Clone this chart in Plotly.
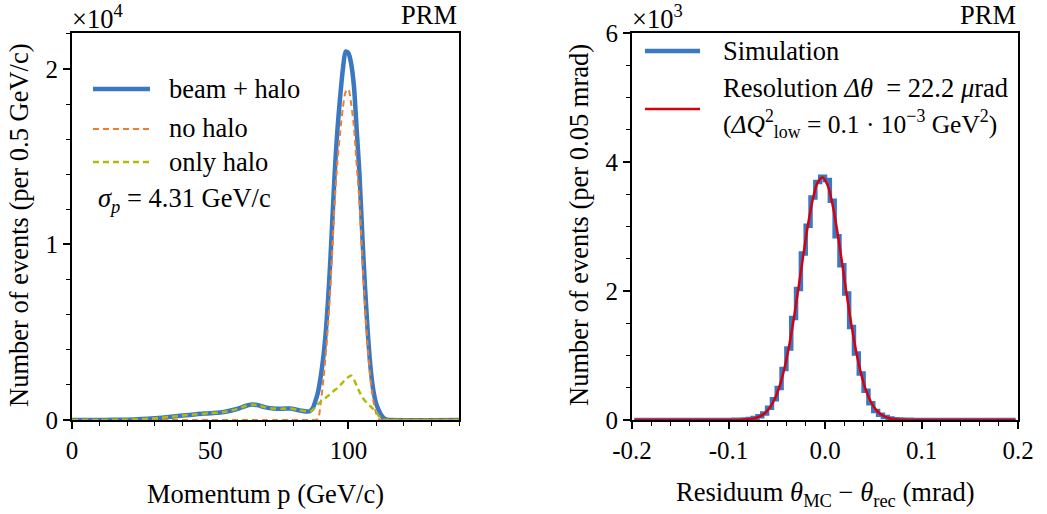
import plotly.graph_objects as go

W, H = 1047, 514
FONT = "Liberation Serif"

# ---------------- data: left panel (momentum, counts per 0.5 GeV/c) ----------------
p_gev = [0, 10, 15, 20, 25, 30, 35, 40, 45, 50, 55, 60, 63, 65, 67, 70, 73, 76, 79, 82, 85, 86,
         87, 88, 89, 90, 91, 92, 93, 94, 95, 96, 97, 98, 99, 100, 101, 102, 103, 104, 105, 106,
         107, 108, 109, 110, 111, 112, 113, 114, 115, 140]
beam_halo = [0, 2, 8, 20, 50, 100, 170, 250, 330, 390, 460, 640, 810, 880, 850, 720, 650, 640, 660, 560, 490, 500,
             650, 1050, 1600, 2500, 3700, 5400, 7800, 10800, 14000, 16500, 18400, 20000, 21000, 20900, 20300,
             19000, 16500, 14000, 10600, 7600, 5000, 3000, 1700, 950, 550, 250, 80, 20, 0, 0]
no_halo = [0, 0, 0, 0, 0, 0, 0, 0, 0, 0, 0, 0, 0, 0, 0, 0, 0, 0, 0, 0, 0, 0,
           0, 0, 60, 1000, 2400, 4100, 6300, 9200, 12300, 14700, 16400, 17800, 18700, 18850, 18000,
           16700, 14500, 12400, 9300, 6500, 4100, 2300, 1100, 400, 50, 0, 0, 0, 0, 0]
only_halo = [0, 2, 8, 20, 50, 100, 170, 250, 330, 390, 460, 640, 810, 880, 850, 720, 650, 640, 660, 560, 490, 500,
             560, 730, 900, 1040, 1170, 1300, 1420, 1560, 1700, 1820, 1980, 2150, 2300, 2450, 2530,
             2300, 1950, 1600, 1300, 1100, 930, 770, 620, 430, 220, 80, 0, 0, 0, 0]

# ---------------- data: right panel (residual, bins of 0.005 mrad) ----------------
sim_core = [0, 1, 1, 2, 4, 8, 15, 30, 58, 100, 190, 320, 495, 790, 1110, 1580, 2030, 2580, 3010, 3450, 3690, 3770,
            3720, 3400, 2850, 2400, 1960, 1440, 1030, 720, 455, 258, 140, 80, 45, 24, 12, 6, 3, 2, 1, 1, 0, 0]
fit_core = [0, 0, 0, 1, 3, 6, 14, 28, 55, 104, 185, 313, 504, 772, 1124, 1555, 2045, 2556, 3038, 3431, 3684, 3760,
            3646, 3362, 2947, 2455, 1944, 1463, 1047, 712, 460, 283, 165, 92, 48, 24, 12, 5, 2, 1, 0, 0, 0, 0]
theta_centres = [round((k + 0.5) * 0.005, 4) for k in range(-40, 40)]
pad = [0] * 18
sim_counts = pad + sim_core + pad
fit_counts = pad + fit_core + pad

x_ticks_left = [0, 50, 100]
x_ticks_right = [-0.2, -0.1, 0.0, 0.1, 0.2]
x_ticktext_right = ["-0.2", "-0.1", "0.0", "0.1", "0.2"]
y_ticks_left = [0, 10000, 20000]
y_ticktext_left = ["0", "1", "2"]
y_ticks_right = [0, 2000, 4000, 6000]
y_ticktext_right = ["0", "2", "4", "6"]

BLUE = "#3a78c2"
ORANGE = "#ef7d31"
GREEN = "#b2ba0c"
RED = "#d7000f"
TXT = 26.5
TICK = 25

def px(x):
    return x / W

def py(y):
    return 1 - y / H

L_DOM = [px(72), px(459)]
R_DOM = [px(632), px(1018)]
Y_DOM = [py(420), py(33)]

fig = go.Figure()
fig.add_trace(go.Scatter(x=p_gev, y=beam_halo, mode="lines",
                         line=dict(color=BLUE, width=4.5, shape="spline", smoothing=0.7),
                         xaxis="x", yaxis="y", showlegend=False))
fig.add_trace(go.Scatter(x=p_gev, y=no_halo, mode="lines",
                         line=dict(color=ORANGE, width=2, dash="6px,4px", shape="spline", smoothing=0.7),
                         xaxis="x", yaxis="y", showlegend=False))
fig.add_trace(go.Scatter(x=p_gev, y=only_halo, mode="lines",
                         line=dict(color=GREEN, width=2.5, dash="6px,4px", shape="spline", smoothing=0.7),
                         xaxis="x", yaxis="y", showlegend=False))
fig.add_trace(go.Scatter(x=theta_centres, y=sim_counts, mode="lines", line=dict(color=BLUE, width=4.5, shape="hvh"),
                         xaxis="x2", yaxis="y2", showlegend=False))
fig.add_trace(go.Scatter(x=theta_centres, y=fit_counts, mode="lines",
                         line=dict(color=RED, width=2.5, shape="spline", smoothing=1.0),
                         xaxis="x2", yaxis="y2", showlegend=False))

tickfont = dict(family=FONT, size=TICK, color="black")
common = dict(showline=True, mirror=True, linecolor="black", linewidth=2, showgrid=False, zeroline=False,
              ticks="outside", ticklen=7, tickwidth=1.5, tickcolor="black", tickfont=tickfont,
              automargin=False)

fig.update_layout(
    width=W, height=H, margin=dict(l=0, r=0, t=0, b=0, pad=0),
    paper_bgcolor="white", plot_bgcolor="white",
    font=dict(family=FONT, size=TICK, color="black"),
    xaxis=dict(domain=L_DOM, range=[0, 140], tickvals=x_ticks_left, anchor="y",
               minor=dict(ticks="outside", ticklen=4, tickwidth=1.2, tickcolor="black", dtick=10, tick0=0, showgrid=False),
               **common),
    yaxis=dict(domain=Y_DOM, range=[0, 22050], tickvals=y_ticks_left, ticktext=y_ticktext_left, anchor="x",
               minor=dict(ticks="outside", ticklen=4, tickwidth=1.2, tickcolor="black", dtick=2000, tick0=0, showgrid=False),
               **common),
    xaxis2=dict(domain=R_DOM, range=[-0.2, 0.2], tickvals=x_ticks_right, ticktext=x_ticktext_right, anchor="y2",
                minor=dict(ticks="outside", ticklen=4, tickwidth=1.2, tickcolor="black", dtick=0.02, tick0=0, showgrid=False),
                **common),
    yaxis2=dict(domain=Y_DOM, range=[0, 6000], tickvals=y_ticks_right, ticktext=y_ticktext_right, anchor="x2",
                minor=dict(ticks="outside", ticklen=4, tickwidth=1.2, tickcolor="black", dtick=500, tick0=0, showgrid=False),
                **common),
)

ann = []
def text(x, y, s, xanchor="left", size=TXT, angle=0):
    ann.append(dict(x=px(x), y=py(y), xref="paper", yref="paper", text=s, showarrow=False,
                    xanchor=xanchor, yanchor="middle", textangle=angle,
                    font=dict(family=FONT, size=size, color="black")))

# axis titles
text(265, 494, "Momentum p (GeV/c)", xanchor="center")
text(825, 494, "Residuum <i>θ</i><sub>MC</sub> − <i>θ</i><sub>rec</sub> (mrad)", xanchor="center")
text(19, 225, "Number of events (per 0.5 GeV/c)", xanchor="center", angle=-90)
text(579, 225, "Number of events (per 0.05 mrad)", xanchor="center", angle=-90)
# exponent labels and PRM tags
text(70, 17, "×10<sup>4</sup>")
text(630, 17, "×10<sup>3</sup>")
text(459, 15, "PRM", xanchor="right")
text(1018, 15, "PRM", xanchor="right")
# left legend
text(167, 89, "beam + halo")
text(167, 128, "no halo")
text(167, 162, "only halo")
text(96, 200, "<i>σ<sub>p</sub></i> = 4.31 GeV/c")
# right legend
text(721, 51, "Simulation")
text(721, 88, "Resolution <i>Δθ</i>  = 22.2 <i>μ</i>rad")
text(721, 124, "(<i>ΔQ</i><sup>2</sup><sub>low</sub> = 0.1 · 10<sup>−3</sup> GeV<sup>2</sup>)", size=25.5)

shapes = []
def seg(x0, x1, y, color, width, dash="solid"):
    shapes.append(dict(type="line", xref="paper", yref="paper", x0=px(x0), x1=px(x1), y0=py(y), y1=py(y),
                       line=dict(color=color, width=width, dash=dash)))

seg(93, 150, 89, BLUE, 4.5)
seg(93, 150, 129, ORANGE, 2, "6px,4px")
seg(93, 150, 162, GREEN, 2.5, "6px,4px")
seg(645, 700, 51, BLUE, 4.5)
seg(645, 700, 109, RED, 2.5)

fig.update_layout(annotations=ann, shapes=shapes)
fig.write_html("out.html")
